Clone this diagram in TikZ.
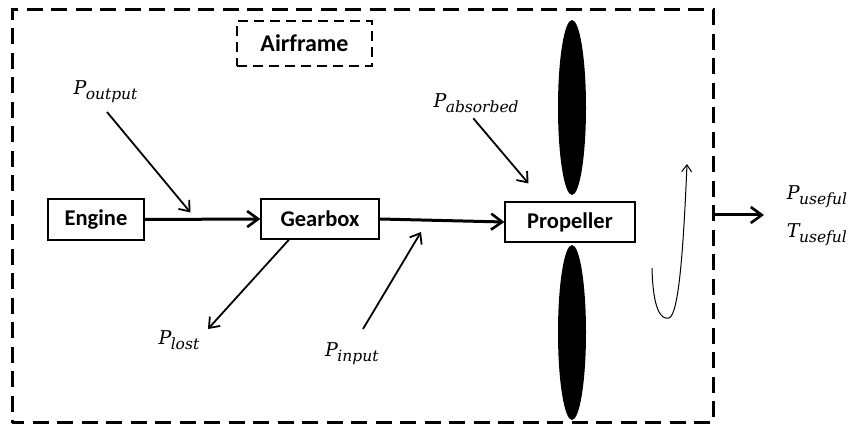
\documentclass[tikz,border=0pt]{standalone}
\usepackage{fontspec}
\usetikzlibrary{arrows.meta}
\newfontfamily\boxfont{Carlito}
\newfontfamily\lblfont{DejaVu Serif}
% power / torque label: big italic letter with a lowered italic subscript
\newcommand\pwr[2]{{\lblfont\itshape\fontsize{19}{19}\selectfont #1\kern-0.5pt\raisebox{-5pt}{\fontsize{15.5}{15.5}\selectfont #2}}}
\tikzset{
  unit/.style={draw, line width=1.3pt, fill=white, inner sep=0pt,
    font=\boxfont\bfseries\fontsize{22.5}{22.5}\selectfont},
  flow/.style={line width=3pt, -{Straight Barb[length=11pt,width=16pt,line width=2.6pt]}},
  thinflow/.style={line width=1.8pt, -{Straight Barb[length=9pt,width=14pt,line width=1.8pt]}},
  spin/.style={line width=1pt, -{Straight Barb[length=7pt,width=10pt,line width=1pt]}},
  lbl/.style={anchor=base west, inner sep=0pt},
  blade/.style={fill=black}
}
\begin{document}
\begin{tikzpicture}[x=1pt,y=-1pt]
\useasboundingbox (0,0) rectangle (855,427);

% system boundaries
\node[draw, line width=3pt, dash pattern=on 16pt off 8.5pt, dash phase=4pt,
  minimum width=701pt, minimum height=413pt, inner sep=0pt] (frame) at (362.5,216.5) {};
\node[draw, line width=2pt, dash pattern=on 10pt off 6pt,
  minimum width=135pt, minimum height=45pt, inner sep=0pt,
  font=\boxfont\bfseries\fontsize{24}{24}\selectfont] (airframe) at (304.5,43.5) {Airframe};

% propeller blades
\fill[blade] (572,107.5) ellipse [x radius=14, y radius=87.5];
\fill[blade] (572,332.5) ellipse [x radius=14, y radius=87.5];

% drivetrain units
\node[unit, minimum width=96pt, minimum height=41pt] (engine) at (96,219.5) {Engine};
\node[unit, minimum width=118pt, minimum height=40pt] (gear) at (320,219) {Gearbox};
\node[unit, minimum width=130pt, minimum height=40pt] (prop) at (570,222) {Propeller};

\draw[flow] (engine.east) -- (gear.west);
\draw[flow] (gear.east) -- (prop.west);

% power labels
\node[lbl] (pout) at (73.3,94.3) {\pwr{P}{output}};
\node[lbl] (pabs) at (433.3,107.7) {\pwr{P}{absorbed}};
\node[lbl] (plost) at (158.3,345) {\pwr{P}{lost}};
\node[lbl] (pin) at (325,356.7) {\pwr{P}{input}};
\node[lbl] (puse) at (786.7,200) {\pwr{P}{useful}};
\node[lbl] (tuse) at (786.7,237.3) {\pwr{T}{useful}};

% arrow end points
\coordinate (poutA) at (107,112);
\coordinate (poutB) at (190.5,212.5);
\coordinate (pabsA) at (473.3,118.3);
\coordinate (pabsB) at (528.5,183.5);
\coordinate (plostA) at ([xshift=-31pt]gear.south);
\coordinate (plostB) at (208,329);
\coordinate (pinA) at (363,329);
\coordinate (pinB) at (421,232);
\coordinate (outA) at (frame.east |- 0,215);
\coordinate (outB) at (764,215);

\draw[thinflow] (poutA) -- (poutB);
\draw[thinflow] (pabsA) -- (pabsB);
\draw[thinflow] (plostA) -- (plostB);
\draw[thinflow] (pinA) -- (pinB);
\draw[flow] (outA) -- (outB);

% rotation of the propeller
\coordinate (spinA) at (652,268);
\coordinate (spinB) at (669,318);
\coordinate (spinC) at (687,164);
\draw[spin] (spinA) .. controls (653,310) and (661,320) .. (spinB)
  .. controls (678,315) and (683,260) .. (spinC);
\end{tikzpicture}
\end{document}
